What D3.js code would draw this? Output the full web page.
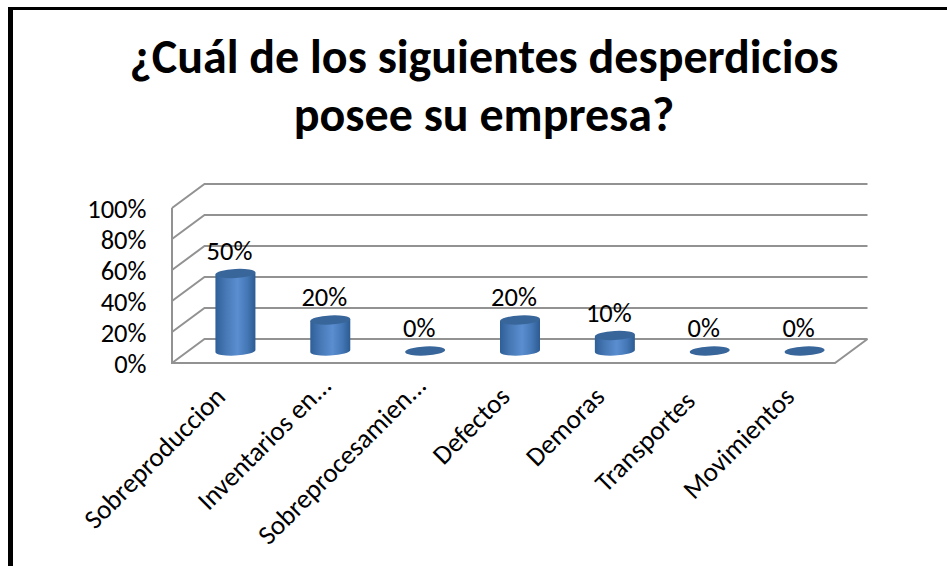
<!DOCTYPE html>
<html>
<head>
<meta charset="utf-8">
<script src="https://cdn.jsdelivr.net/npm/d3@7"></script>
<style>
html,body{margin:0;padding:0;background:#fff;}
svg{display:block;}
text{font-family:Carlito,Lato,"Open Sans",sans-serif;fill:#000;}
</style>
</head>
<body>
<svg id="chart" width="947" height="566"></svg>
<script>
const titleLines = ["¿Cuál de los siguientes desperdicios", "posee su empresa?"];
const categories = ["Sobreproduccion", "Inventarios en...", "Sobreprocesamien...", "Defectos", "Demoras", "Transportes", "Movimientos"];
const values = [50, 20, 0, 20, 10, 0, 0];
const valueTicks = [0, 20, 40, 60, 80, 100];

const svg = d3.select("#chart");

// Frame around the chart area: open on the right and at the bottom.
svg.append("rect").attr("x", 8).attr("y", 7).attr("width", 939).attr("height", 3).attr("fill", "#000");
svg.append("rect").attr("x", 8).attr("y", 7).attr("width", 5).attr("height", 559).attr("fill", "#000");

// Title
svg.append("g").selectAll("text").data(titleLines).join("text")
  .attr("x", 484)
  .attr("y", (d, i) => 73 + i * 58)
  .attr("text-anchor", "middle")
  .attr("font-size", 48)
  .attr("font-weight", 700)
  .text(d => d);

// Scales on the front plane of the 3D box; the back plane is offset by depth.
const depth = { dx: 32.5, dy: -24 };
const x = d3.scaleBand().domain(categories).range([188, 852]);
const y = d3.scaleLinear().domain([0, 100]).range([363, 208]);
const h = d3.scaleLinear().domain([0, 100]).range([0, 155]);
const frontLeft = 172, frontRight = 835;

// Back wall gridlines and the slanted lines on the side wall
const grid = svg.append("g").attr("fill", "none").attr("stroke", "#929292").attr("stroke-width", 2);
valueTicks.forEach(t => {
  const yf = y(t), yb = yf + depth.dy;
  grid.append("path").attr("d", `M${frontLeft},${yf}L${frontLeft + depth.dx},${yb}H${frontRight + depth.dx}`);
});
grid.append("path").attr("d", `M${frontLeft},${y(100)}V${y(0)}H${frontRight}L${frontRight + depth.dx},${y(0) + depth.dy}`);

// Value axis labels
const yAxis = d3.axisLeft(y).tickValues(valueTicks).tickFormat(d => d + "%").tickSize(0).tickPadding(0);
const yAxisG = svg.append("g").attr("transform", "translate(146.5,1.5)").call(yAxis);
yAxisG.select(".domain").remove();
yAxisG.selectAll("text").attr("font-size", 26.5).style("font-family", "Carlito,Lato,'Open Sans',sans-serif");

// Cylinder side shading
const defs = svg.append("defs");
const grad = defs.append("linearGradient").attr("id", "cyl").attr("x1", 0).attr("x2", 1).attr("y1", 0).attr("y2", 0);
[[0, "#2f5f97"], [0.25, "#4778b5"], [0.55, "#5a8ed0"], [0.8, "#4477b5"], [1, "#2c5b92"]]
  .forEach(([o, c]) => grad.append("stop").attr("offset", o).attr("stop-color", c));

// Cylinders stand in the middle of the floor's depth
const rx = 20, ry = 4.6, tilt = -3;
const baseY = y(0) + depth.dy / 2;
const cx = d => x(d) + x.bandwidth() / 2;
const bars = svg.append("g").selectAll("g").data(categories.map((c, i) => ({ c, v: values[i] }))).join("g");

bars.filter(d => d.v > 0).append("path")
  .attr("fill", "url(#cyl)")
  .attr("d", d => {
    const l = cx(d.c) - rx, r = cx(d.c) + rx, top = baseY - h(d.v);
    return `M${l},${top + 1}L${l},${baseY + 1}A${rx},${ry} ${tilt} 0 0 ${r},${baseY - 1}L${r},${top - 1}Z`;
  });
bars.append("ellipse")
  .attr("cx", d => cx(d.c))
  .attr("cy", d => baseY - h(d.v))
  .attr("rx", rx).attr("ry", ry)
  .attr("fill", "#39669a")
  .attr("transform", d => `rotate(${tilt},${cx(d.c)},${baseY - h(d.v)})`);

// Value labels above each cylinder
bars.append("text")
  .attr("x", d => cx(d.c) - 6)
  .attr("y", d => baseY - h(d.v) - 14)
  .attr("text-anchor", "middle")
  .attr("font-size", 26.5)
  .text(d => d.v + "%");

// Category labels, slanted and ending just under the floor.
// Shortened labels run a little further along their slant.
const slantShift = d => d.endsWith("...") ? 16 : d === "Transportes" ? -6 : 0;
svg.append("g").selectAll("text").data(categories).join("text")
  .attr("text-anchor", "end")
  .attr("font-size", 27)
  .attr("transform", d => `translate(${cx(d) - 22},${385}) rotate(-45)`)
  .attr("x", slantShift)
  .attr("dy", "0.7em")
  .text(d => d);
</script>
</body>
</html>
